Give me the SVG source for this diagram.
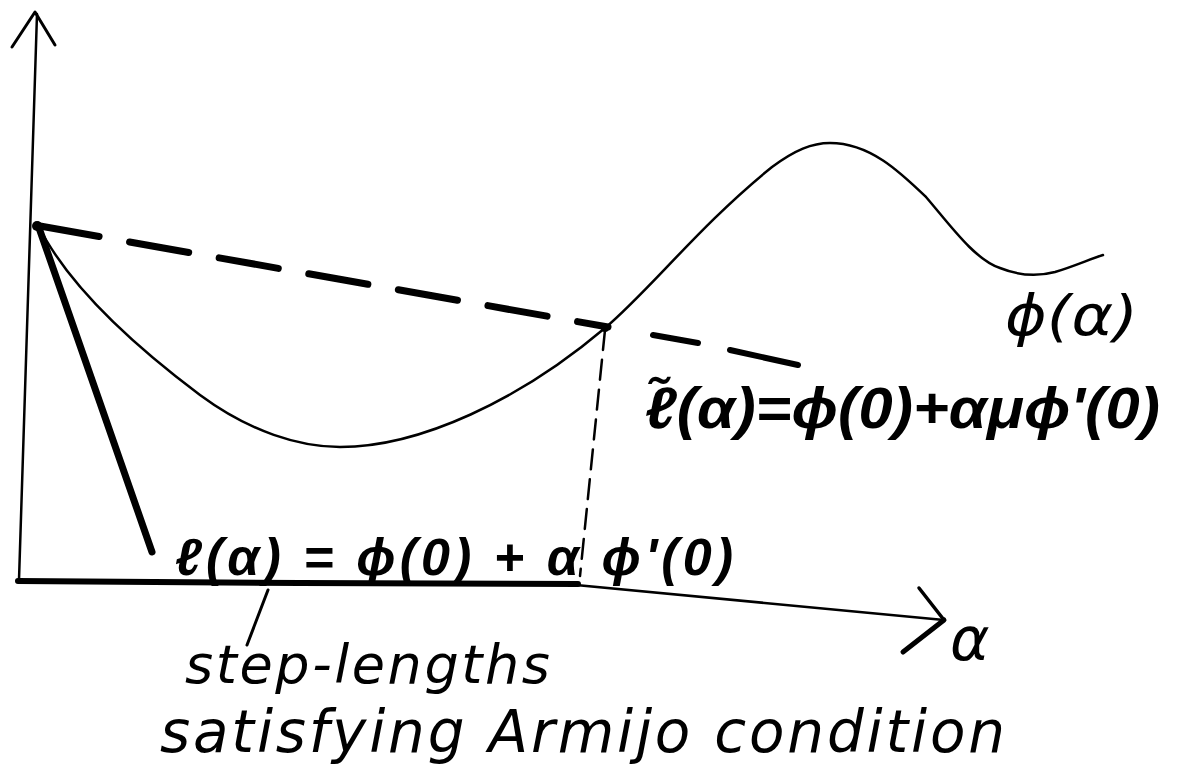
<svg xmlns="http://www.w3.org/2000/svg" width="1183" height="784" viewBox="0 0 1183 784">
<style>
.ln{fill:none;stroke:#000;stroke-linecap:round;stroke-linejoin:round}
.hand{font-family:"DejaVu Sans","Liberation Sans",sans-serif;font-style:oblique;fill:#000}
.math{font-family:"Liberation Sans","DejaVu Sans",sans-serif;font-style:italic;font-weight:bold;fill:#000}
</style>
<rect width="1183" height="784" fill="#fff"/>
<g id="axes">
<path class="ln" d="M37,14 L19,580" stroke-width="2.5"/>
<path class="ln" d="M12,47 L35,12 L55,45" stroke-width="3"/>
<path class="ln" d="M576,585 L944,620" stroke-width="2.5"/>
<path class="ln" d="M919,588 L944,620" stroke-width="3.5"/>
<path class="ln" d="M944,620 L903,652" stroke-width="5"/>
<path class="ln" d="M18,581 L300,583 L578,584" stroke-width="6"/>
</g>
<g id="phi-curve">
<path class="ln" stroke-width="2.5" d="M38,225 C70,290 140,350 200,395 C250,432 300,447 340,447 C420,447 520,400 605,328 C650,290 700,225 772,167 C795,150 812,143 830,143 C870,143 900,172 926,197 C950,225 975,260 1000,268 C1020,276 1040,276 1055,272 C1075,266 1090,259 1103,255"/>
</g>
<g id="connectors">
<path class="ln" d="M40,226 L608,327" stroke-width="7" stroke-dasharray="60 31"/>
<path class="ln" d="M38,225 L152,552" stroke-width="7"/>
<path class="ln" d="M605,330 L580,576" stroke-width="2.5" stroke-dasharray="20 10"/>
<path class="ln" d="M268,590 L247,645" stroke-width="3"/>
<circle cx="37" cy="226" r="5"/>
<circle cx="605" cy="328" r="4"/>
<path class="ln" d="M653,335 L698,343" stroke-width="6"/>
<path class="ln" d="M730,350 L798,365" stroke-width="6"/>
</g>
<g id="labels">
<text class="hand" x="1005" y="335" font-size="56" textLength="133" lengthAdjust="spacingAndGlyphs">ϕ(α)</text>
<text class="math" x="645" y="428" font-size="58" textLength="515" lengthAdjust="spacingAndGlyphs">ℓ̃(α)=ϕ(0)+αμϕ'(0)</text>
<text class="math" x="175" y="575" font-size="52" textLength="558" lengthAdjust="spacing">ℓ(α) = ϕ(0) + α ϕ'(0)</text>
<text class="hand" x="950" y="660" font-size="60">α</text>
<text class="hand" x="185" y="683" font-size="54" textLength="365" lengthAdjust="spacing">step-lengths</text>
<text class="hand" x="160" y="752" font-size="58" textLength="845" lengthAdjust="spacing">satisfying Armijo condition</text>
</g>
</svg>
